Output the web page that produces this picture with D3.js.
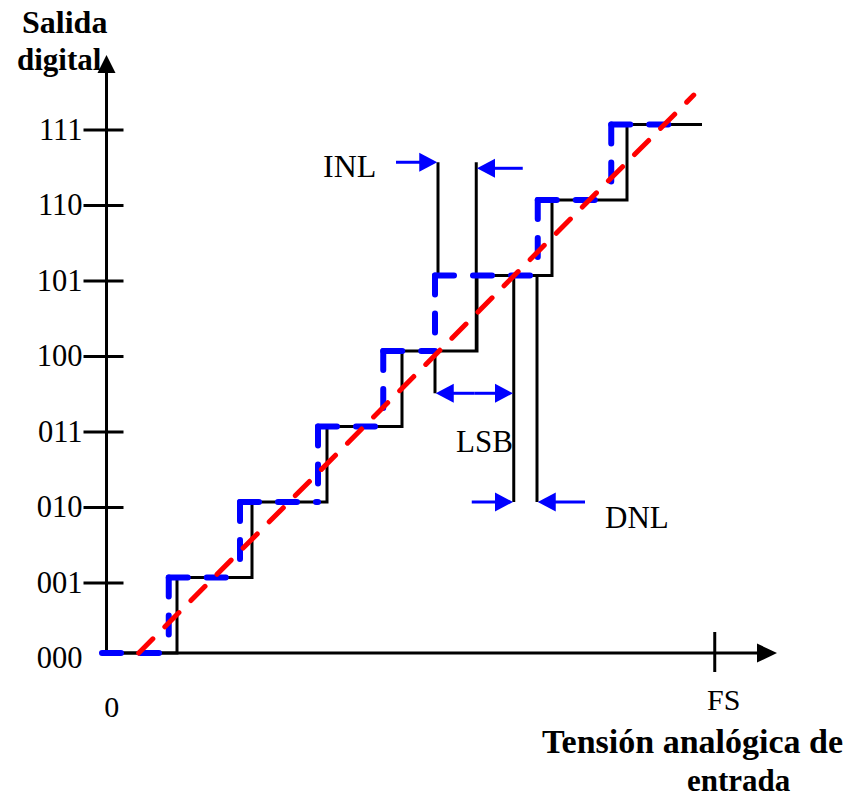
<!DOCTYPE html>
<html><head><meta charset="utf-8">
<script src="https://cdn.jsdelivr.net/npm/d3@7"></script>
<style>body{margin:0;background:#fff}svg{display:block;background:#fff}</style>
</head><body>
<svg id="c" width="848" height="798"></svg>
<script>
// ---- data ----
const codes = ["000","001","010","011","100","101","110","111"];
const levels = [0,1,2,3,4,5,6,7];
const idealSteps = [0,1,2,3,4,5,6,7];           // black staircase: input (LSB) where each code begins
const idealEnd = 8;
const realSteps = [0,0.89,1.84,2.88,3.75,4.44,5.81,6.79]; // blue dashed staircase
const realEnd = 7.61;
const lineX = [0.49, 7.89];                       // red dashed straight line
const lineY = [0, 7.39];
const xTickLabels = ["0","FS"];
const xTickValues = [0.13, 8.29];
const fsValue = 8.17;
const annLabels = ["INL","LSB","DNL"];

// ---- scales ----
const W = 848, H = 798;
const x = d3.scaleLinear().domain([0, 9]).range([102, 777]);
const y = d3.scaleLinear().domain([0, 7]).range([653, 124.5]);
const svg = d3.select("#c");
const axisX = 106.5;
const serif = "'Liberation Serif','Times New Roman',serif";

// ---- black ideal staircase ----
const idealPts = idealSteps.map((s,i)=>[s, levels[i]]).concat([[idealEnd, levels[7]]]);
const stepLine = d3.line().x(d=>x(d[0])).y(d=>y(d[1])).curve(d3.curveStepAfter);
svg.append("path").attr("d", stepLine(idealPts))
  .attr("fill","none").attr("stroke","#000").attr("stroke-width",3).attr("stroke-linejoin","miter");

// ---- axes ----
const g = svg.append("g");
g.append("line").attr("x1", x(0)).attr("x2", 760).attr("y1", y(0)).attr("y2", y(0))
  .attr("stroke","#000").attr("stroke-width",3);
g.append("path").attr("d", `M777,${y(0)} L757,${y(0)-9.5} L757,${y(0)+9.5} Z`).attr("fill","#000");
g.append("line").attr("x1", axisX).attr("x2", axisX).attr("y1", y(0)+1.5).attr("y2", 70)
  .attr("stroke","#000").attr("stroke-width",3);
g.append("path").attr("d", `M${axisX},55 L${axisX-9},73 L${axisX+9},73 Z`).attr("fill","#000");

// y ticks via d3 axis
const yAxis = d3.axisLeft(y).tickValues(levels).tickFormat(i=>codes[i]).tickSize(0).tickPadding(24);
const ya = svg.append("g").attr("transform", `translate(${axisX},5)`).call(yAxis);
ya.select(".domain").remove();
ya.selectAll("text").attr("font-family", serif).attr("font-size", 30.5).attr("fill","#000");
ya.selectAll(".tick").filter(d=>d>0).append("line")
  .attr("x1",-23).attr("x2",17).attr("stroke","#000").attr("stroke-width",3);

// FS tick
svg.append("line").attr("x1", x(fsValue)).attr("x2", x(fsValue)).attr("y1", 632).attr("y2", 672)
  .attr("stroke","#000").attr("stroke-width",3);
const xBase = [717, 710];
svg.selectAll(".xl").data(xTickLabels).join("text").attr("class","xl")
  .attr("x",(d,i)=>x(xTickValues[i])).attr("y",(d,i)=>xBase[i])
  .attr("text-anchor","middle").attr("font-family",serif).attr("font-size",30).text(d=>d);

// ---- annotation black lines ----
const blk = (x1,y1,x2,y2)=>svg.append("line").attr("x1",x(x1)).attr("x2",x(x2)).attr("y1",y(y1)).attr("y2",y(y2))
  .attr("stroke","#000").attr("stroke-width",3);
blk(4.48, 5, 4.48, 6.5);
blk(4.99, 4, 4.99, 6.5);
blk(4.44, 4, 4.44, 3.44);
blk(5.49, 5, 5.49, 2.0);
blk(5.80, 5, 5.80, 2.0);

// ---- blue dashed staircase ----
const segLine = d3.line().x(d=>x(d[0])).y(d=>y(d[1]));
const blueSegs = [];
realSteps.forEach((s,i)=>{
  const next = i<realSteps.length-1 ? realSteps[i+1] : realEnd;
  if (i>0) blueSegs.push([[s, levels[i]],[s, levels[i-1]]]);
  blueSegs.push([[s, levels[i]],[next, levels[i]]]);
});
svg.selectAll(".blue").data(blueSegs).join("path").attr("class","blue")
  .attr("d", d=>segLine(d)).attr("fill","none").attr("stroke","#0000ff")
  .attr("stroke-width",6).attr("stroke-dasharray","19,19").attr("stroke-linecap","round");

// ---- red dashed line ----
svg.append("path").attr("d", segLine(lineX.map((v,i)=>[v, lineY[i]])))
  .attr("fill","none").attr("stroke","#ff0000").attr("stroke-width",5)
  .attr("stroke-dasharray","20,17").attr("stroke-linecap","round");

// ---- blue arrows ----
function arrow(x1,y1,x2,y2){
  const X1=x(x1),Y1=y(y1),X2=x(x2),Y2=y(y2);
  const dx=X2-X1, dy=Y2-Y1, L=Math.hypot(dx,dy), ux=dx/L, uy=dy/L;
  const hl=18, hw=9.5;
  const bx=X2-ux*hl, by=Y2-uy*hl;
  svg.append("line").attr("x1",X1).attr("y1",Y1).attr("x2",bx+ux*2).attr("y2",by+uy*2)
    .attr("stroke","#0000ff").attr("stroke-width",3);
  svg.append("path").attr("d",`M${X2},${Y2} L${bx-uy*hw},${by+ux*hw} L${bx+uy*hw},${by-ux*hw} Z`).attr("fill","#0000ff");
}
arrow(3.92, 6.5, 4.47, 6.5);
arrow(5.61, 6.42, 5.0, 6.42);
arrow(4.97, 3.44, 5.48, 3.44);
arrow(4.97, 3.44, 4.45, 3.44);
arrow(4.93, 2.0, 5.48, 2.0);
arrow(6.44, 2.0, 5.81, 2.0);

// ---- annotation texts ----
const annPos = [[323,177,32],[456,452,31],[605,528,31]];
svg.selectAll(".ann").data(annLabels).join("text").attr("class","ann")
  .attr("x",(d,i)=>annPos[i][0]).attr("y",(d,i)=>annPos[i][1])
  .attr("font-size",(d,i)=>annPos[i][2]).attr("font-family",serif).text(d=>d);

// ---- axis titles ----
const bold = svg.append("g").attr("font-family",serif).attr("font-weight","bold");
bold.append("text").attr("x",22).attr("y",33).attr("font-size",32).text("Salida");
bold.append("text").attr("x",17).attr("y",70).attr("font-size",31).text("digital");
bold.append("text").attr("x",542).attr("y",753).attr("font-size",34).text("Tensión analógica de");
bold.append("text").attr("x",687).attr("y",791).attr("font-size",31).text("entrada");
</script>
</body></html>
